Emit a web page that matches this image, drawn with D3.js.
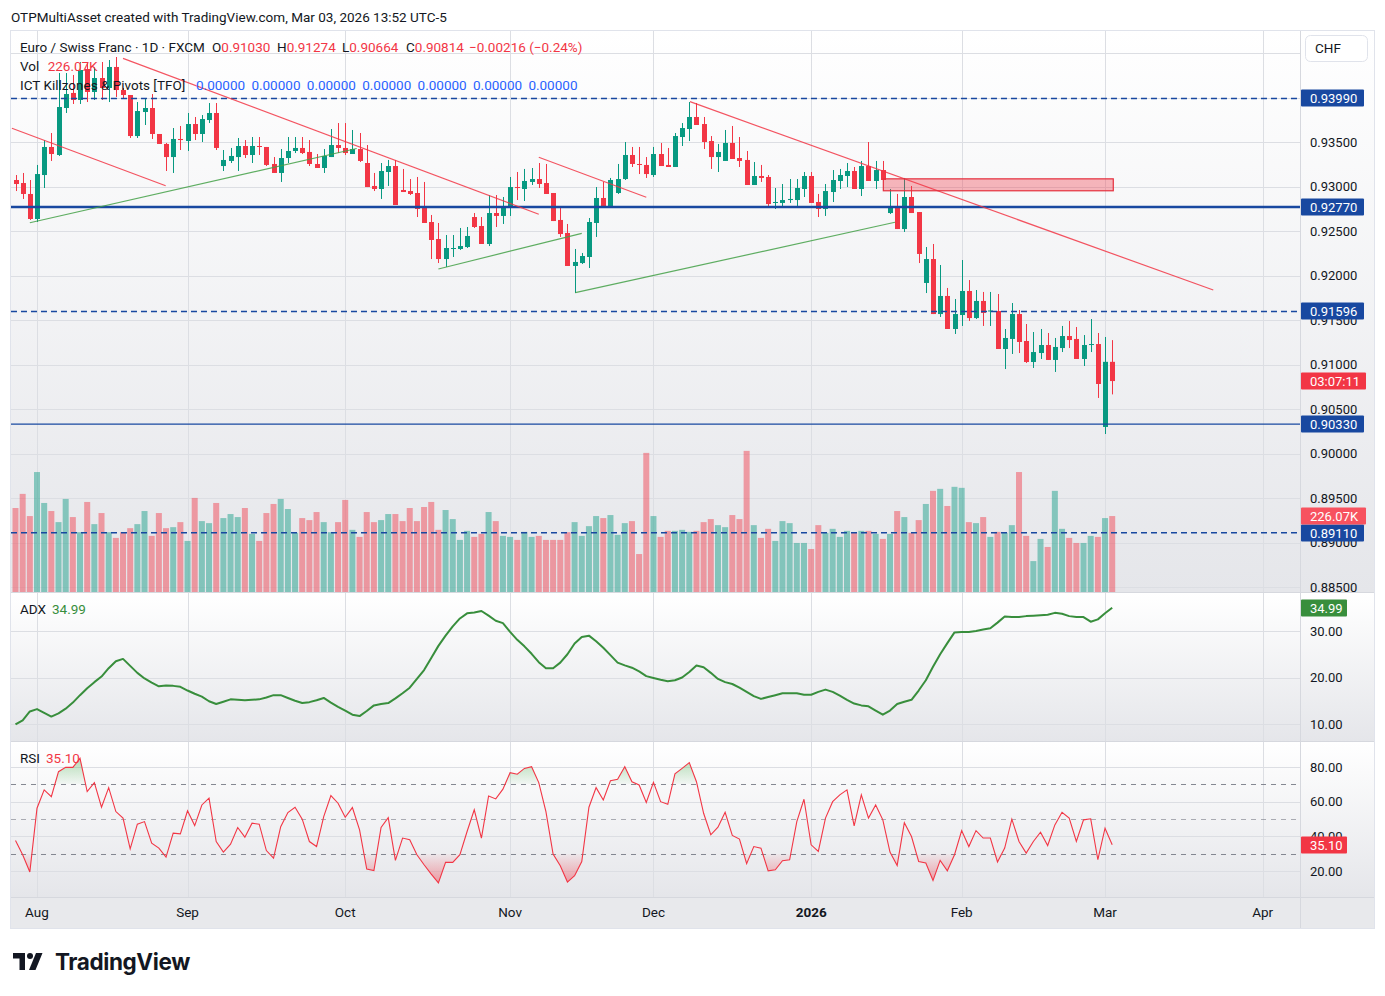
<!DOCTYPE html>
<html>
<head>
<meta charset="utf-8">
<script src="https://cdn.jsdelivr.net/npm/d3@7"></script>
<style>
  body { margin: 0; background: #fff; }
  svg { display: block; font-family: Roboto, "Noto Sans", sans-serif; }
</style>
</head>
<body>
<svg id="chart" width="1385" height="996"></svg>
<script>
// ---- data (EUR/CHF daily, FXCM) ----
var symbolTitle = "Euro / Swiss Franc \u00b7 1D \u00b7 FXCM";
var creditLine = "OTPMultiAsset created with TradingView.com, Mar 03, 2026 13:52 UTC-5";
var holidays = ["2025-12-25", "2026-01-01"];

var opens = [.93073,.93039,.92916,.92635,.93129,.93444,.93354,.93882,.94051,.93972,
  .94320,.94062,.94219,.94107,.94343,.94084,.94028,.93567,.93837,.93882,
  .93590,.93478,.93331,.93534,.93511,.93702,.93590,.93747,.93826,.93230,
  .93287,.93331,.93455,.93354,.93455,.93444,.93253,.93152,.93320,.93399,
  .93433,.93388,.93253,.93208,.93331,.93466,.93433,.93365,.93421,.93264,
  .93006,.92972,.93163,.93230,.92961,.92949,.92927,.92758,.92601,.92410,
  .92185,.92298,.92298,.92320,.92657,.92556,.92354,.92702,.92669,.92770,
  .92994,.92972,.93051,.93084,.93039,.92927,.92624,.92478,.92107,.92140,
  .92208,.92590,.92871,.92770,.92927,.93084,.93354,.93253,.93242,.93129,
  .93365,.93242,.93219,.93556,.93646,.93781,.93702,.93511,.93331,.93287,
  .93489,.93320,.93298,.93017,.93118,.93107,.92815,.92815,.92848,.92848,
  .92972,.93118,.92826,.92747,.92938,.93062,.93118,.93174,.92972,.93230,
  .93062,.93185,.92702,.92781,.92522,.92882,.92713,.91916,.92185,.91567,
  .91770,.91399,.91556,.91826,.91522,.91714,.91596,.91601,.91174,.91287,
  .91567,.91264,.91028,.91129,.91219,.91051,.91185,.91320,.91287,.91062,
  .91219,.91230,.90298,.91030];
var highs = [.93129,.93152,.93073,.93242,.93522,.93601,.94275,.94275,.94253,.94399,
  .94388,.94343,.94399,.94421,.94455,.94107,.94028,.93949,.93994,.94039,
  .93590,.93489,.93657,.93680,.93826,.93781,.93803,.93938,.93938,.93410,
  .93433,.93545,.93522,.93556,.93556,.93444,.93331,.93421,.93556,.93556,
  .93556,.93522,.93365,.93421,.93646,.93713,.93713,.93635,.93601,.93466,
  .93152,.93264,.93298,.93298,.93197,.93084,.93107,.93051,.92680,.92590,
  .92455,.92455,.92534,.92545,.92702,.92657,.92904,.92904,.92882,.93107,
  .93163,.93197,.93208,.93264,.93253,.92927,.92758,.92579,.92298,.92253,
  .92646,.92994,.93051,.93096,.93253,.93500,.93444,.93444,.93331,.93444,
  .93489,.93433,.93601,.93713,.93949,.93938,.93781,.93567,.93478,.93635,
  .93680,.93556,.93399,.93275,.93242,.93129,.92983,.93028,.93084,.93084,
  .93163,.93163,.92916,.93028,.93185,.93197,.93264,.93219,.93287,.93500,
  .93287,.93287,.92972,.92916,.93096,.93006,.92713,.92320,.92354,.92118,
  .91860,.91736,.92174,.91949,.91837,.91815,.91815,.91792,.91399,.91691,
  .91612,.91455,.91365,.91399,.91354,.91298,.91433,.91489,.91421,.91331,
  .91511,.91354,.91309,.91274];
var lows = [.92949,.92860,.92624,.92601,.92983,.93287,.93343,.93826,.93927,.93927,
  .93949,.93972,.93972,.93949,.94006,.93994,.93545,.93545,.93691,.93534,
  .93478,.93174,.93152,.93410,.93399,.93522,.93500,.93713,.93410,.93174,
  .93264,.93174,.93320,.93264,.93354,.93230,.93152,.93051,.93264,.93376,
  .93365,.93230,.93208,.93152,.93331,.93376,.93354,.93365,.93275,.92994,
  .92949,.92860,.93006,.92792,.92938,.92904,.92657,.92590,.92185,.92140,
  .92096,.92208,.92287,.92309,.92534,.92354,.92331,.92545,.92579,.92669,
  .92848,.92837,.93017,.92983,.92916,.92612,.92433,.92107,.91803,.92129,
  .92084,.92433,.92770,.92770,.92916,.93073,.93219,.93140,.93096,.93107,
  .93230,.93219,.93219,.93455,.93511,.93691,.93421,.93197,.93163,.93287,
  .93309,.93219,.93017,.93017,.93051,.92781,.92747,.92770,.92815,.92770,
  .92882,.92815,.92657,.92669,.92826,.92972,.92994,.92972,.92893,.93062,
  .92972,.93073,.92691,.92522,.92489,.92702,.92140,.91803,.91567,.91534,
  .91399,.91343,.91433,.91489,.91511,.91433,.91433,.91174,.90949,.91118,
  .91129,.91017,.90961,.91062,.91051,.90916,.91140,.91185,.91062,.90983,
  .91140,.90624,.90219,.90664];
var closes = [.93028,.92916,.92635,.93140,.93444,.93365,.93893,.94039,.93972,.94309,
  .94062,.94219,.94107,.94343,.94084,.94028,.93567,.93848,.93882,.93590,
  .93478,.93331,.93534,.93522,.93702,.93590,.93758,.93826,.93433,.93298,
  .93343,.93455,.93354,.93455,.93444,.93242,.93152,.93320,.93399,.93433,
  .93376,.93253,.93208,.93343,.93466,.93433,.93376,.93421,.93287,.92994,
  .92972,.93174,.93230,.92792,.92938,.92916,.92747,.92590,.92399,.92185,
  .92309,.92309,.92331,.92444,.92545,.92354,.92702,.92669,.92781,.92994,
  .92983,.93062,.93084,.93028,.92916,.92612,.92466,.92107,.92152,.92219,
  .92601,.92871,.92770,.93073,.93084,.93354,.93253,.93242,.93140,.93365,
  .93230,.93219,.93567,.93657,.93781,.93691,.93500,.93331,.93388,.93489,
  .93309,.93287,.93017,.93118,.93096,.92803,.92826,.92848,.92860,.92983,
  .93118,.92815,.92747,.92949,.93073,.93129,.93174,.92972,.93230,.93062,
  .93185,.93073,.92781,.92522,.92882,.92702,.92242,.92185,.91567,.91770,
  .91399,.91567,.91826,.91522,.91714,.91579,.91607,.91174,.91298,.91567,
  .91253,.91028,.91140,.91219,.91051,.91197,.91320,.91275,.91062,.91219,
  .91230,.90781,.91030,.90814];
// volume, thousands
var volumes = [250,292,226,357,265,241,208,277,223,178,268,202,235,178,161,178,190,202,241,167,
  235,190,193,208,152,280,211,205,265,220,232,223,250,173,152,235,262,277,247,176,
  220,214,238,208,178,208,274,185,164,238,208,214,232,232,211,250,211,253,268,185,
  244,217,155,182,164,173,238,211,167,164,155,179,164,167,155,155,155,178,208,167,
  196,226,220,229,170,205,211,113,414,226,164,182,182,185,179,182,208,217,199,193,
  229,217,420,199,161,188,152,211,205,146,146,128,199,176,188,164,182,176,182,182,
  173,158,173,241,223,176,214,262,301,307,256,313,310,208,205,223,164,179,176,199,
  357,167,92,158,134,301,188,161,146,146,167,164,220,226.07];
var adxValues = [9.9,10.8,12.7,13.2,12.4,11.6,12.3,13.3,14.6,16.2,
  17.7,19.0,20.2,22.0,23.5,24.0,22.5,21.0,19.8,18.9,
  18.1,18.3,18.2,18.0,17.2,16.5,15.9,14.9,14.3,14.8,
  15.3,15.2,15.1,15.2,15.3,15.7,16.2,16.2,15.6,15.0,
  14.5,14.7,15.1,15.6,14.6,13.7,12.9,12.0,11.7,12.8,
  14.0,14.3,14.5,15.5,16.6,17.8,19.7,21.6,24.2,26.8,
  29.0,31.0,32.7,33.8,34.0,34.3,33.3,32.2,31.7,29.8,
  28.1,26.7,25.1,23.3,22.0,22.0,23.2,25.0,27.3,28.7,
  29.0,27.8,26.4,24.8,23.2,22.6,22.1,21.3,20.3,19.9,
  19.5,19.2,19.4,20.0,21.2,22.6,22.2,21.0,19.7,19.0,
  18.6,17.8,16.9,16.0,15.4,15.8,16.2,16.6,16.6,16.6,
  16.3,16.3,16.9,17.4,16.9,16.1,15.2,14.4,14.0,13.8,
  12.9,12.0,12.9,14.3,14.8,15.2,17.2,19.4,22.3,25.0,
  27.4,29.7,29.8,29.8,30.0,30.3,30.6,31.8,33.1,33.0,
  33.0,33.2,33.3,33.4,33.5,33.9,33.7,33.2,33.0,33.0,
  32.0,32.5,33.8,34.99];
var rsiValues = [37.6,29.4,19.4,56.2,66.8,62.9,77.3,79.8,79.8,85.0,
  65.8,71.0,56.8,68.1,54.3,50.5,32.8,47.0,48.5,36.1,
  33.2,28.0,41.8,41.4,54.7,46.2,58.1,62.0,37.0,30.9,
  35.5,45.1,39.5,47.6,47.0,31.8,27.4,45.6,53.7,56.8,
  49.9,37.0,34.1,51.4,63.5,59.1,51.0,56.6,43.7,21.1,
  20.3,45.1,50.8,26.1,39.0,38.0,29.4,23.6,18.2,13.1,
  25.0,25.0,29.4,42.8,55.3,39.0,63.3,61.6,67.2,76.7,
  75.8,79.2,80.2,71.0,54.3,29.8,23.0,13.6,17.3,25.5,
  56.8,68.1,61.0,72.1,72.9,80.2,71.5,69.6,59.5,71.2,
  60.0,58.5,76.0,79.2,82.5,71.5,53.3,40.9,45.3,53.9,
  40.5,38.4,24.2,34.1,33.2,20.1,20.7,25.9,26.5,48.5,
  61.4,35.1,31.3,50.5,60.0,63.9,66.8,46.0,63.9,50.5,
  58.1,49.5,30.9,23.2,47.9,39.9,25.5,24.6,14.6,26.1,
  20.1,29.4,43.3,34.1,43.3,39.0,39.0,25.2,33.2,49.9,
  37.0,30.3,37.0,42.4,34.7,46.6,53.9,50.5,37.0,49.5,
  50.1,26.5,44.7,35.10];
var pivotValues = [0, 0, 0, 0, 0, 0, 0];

var priceTicks = [0.885,0.890,0.895,0.900,0.905,0.910,0.915,0.920,0.925,0.930,0.935,0.940,0.945];
var adxTicks = [10, 20, 30];
var rsiTicks = [20, 40, 60, 80];
var rsiBands = [70, 50, 30];

var dashedLevels = [0.93990, 0.91596, 0.89110];
var solidLevels = [0.92770, 0.90330];
// drawings: [bar index, price]
var redTrendLines = [
  [[-0.5, 0.93654], [20.95, 0.93009]],
  [[15.0, 0.94440], [73.0, 0.92688]],
  [[73.0, 0.93328], [88.0, 0.92879]],
  [[94.1, 0.93953], [167.1, 0.91837]]
];
var greenTrendLines = [
  [[2.0, 0.92593], [47.6, 0.93427]],
  [[59.0, 0.92073], [79.0, 0.92474]],
  [[78.1, 0.91807], [122.7, 0.92598]]
];
var zoneBars = [121.07, 153.15];
var zonePrices = [0.93086, 0.92952];
var countdown = "03:07:11";

// ---- layout ----
var plotLeft = 11, plotRight = 1300, axisRight = 1374;
var mainTop = 31, mainBottom = 592, adxTop = 593, adxBottom = 741,
    rsiTop = 742, rsiBottom = 897, timeBottom = 928;
var upColor = "#089981", downColor = "#f23645", levelColor = "#1848a0", textColor = "#131722";
var legendSize = 13.5;

var n = closes.length;
var x = d3.scaleLinear().domain([0, n - 1]).range([15.5, 1112.2]);
var yPrice = d3.scaleLinear().domain([0.885, 0.935]).range([587, 142]);
var yVol = d3.scaleLinear().domain([0, 450]).range([mainBottom, 440.8]);
var yAdx = d3.scaleLinear().domain([10, 30]).range([724, 631]);
var yRsi = d3.scaleLinear().domain([20, 80]).range([871, 767]);

var fmt5 = d3.format(".5f"), fmt2 = d3.format(".2f");

var buildCalendar = function() {
  var days = [], d = new Date(Date.UTC(2025, 6, 29)), end = new Date(Date.UTC(2026, 4, 1));
  while (d < end) {
    var wd = d.getUTCDay(), iso = d.toISOString().slice(0, 10);
    if (wd !== 0 && wd !== 6 && holidays.indexOf(iso) < 0) days.push(new Date(d));
    d.setUTCDate(d.getUTCDate() + 1);
  }
  return days;
};
var dates = buildCalendar();
var monthTicks = [];
for (var i = 1; i < dates.length; i++) {
  if (dates[i].getUTCMonth() !== dates[i - 1].getUTCMonth() && x(i) < plotRight) {
    monthTicks.push({ i: i, date: dates[i], year: dates[i].getUTCMonth() === 0 });
  }
}

var isUp = function(i) { return closes[i] >= opens[i]; };
var crisp = function(v) { return Math.round(v) + 0.5; };

var svg = d3.select("#chart");
var defs = svg.append("defs");

var grad = defs.append("linearGradient").attr("id", "paneBg")
  .attr("x1", 0).attr("y1", 0).attr("x2", 0).attr("y2", 1);
grad.append("stop").attr("offset", "0%").attr("stop-color", "#ffffff");
grad.append("stop").attr("offset", "100%").attr("stop-color", "#e5e6ea");

var addClip = function(id, y0, y1) {
  defs.append("clipPath").attr("id", id).append("rect")
    .attr("x", plotLeft).attr("y", y0).attr("width", plotRight - plotLeft).attr("height", y1 - y0);
};
addClip("clipMain", mainTop, mainBottom);
addClip("clipAdx", adxTop, adxBottom);
addClip("clipRsi", rsiTop, rsiBottom);
addClip("clipOb", rsiTop, yRsi(70));
addClip("clipOs", yRsi(30), rsiBottom);

var ob = defs.append("linearGradient").attr("id", "obGrad").attr("gradientUnits", "userSpaceOnUse")
  .attr("x1", 0).attr("x2", 0).attr("y1", yRsi(86)).attr("y2", yRsi(70));
ob.append("stop").attr("offset", "0%").attr("stop-color", "#4caf50").attr("stop-opacity", 0.45);
ob.append("stop").attr("offset", "100%").attr("stop-color", "#4caf50").attr("stop-opacity", 0.03);
var os = defs.append("linearGradient").attr("id", "osGrad").attr("gradientUnits", "userSpaceOnUse")
  .attr("x1", 0).attr("x2", 0).attr("y1", yRsi(30)).attr("y2", yRsi(13));
os.append("stop").attr("offset", "0%").attr("stop-color", "#f23645").attr("stop-opacity", 0.03);
os.append("stop").attr("offset", "100%").attr("stop-color", "#f23645").attr("stop-opacity", 0.45);

// backgrounds
svg.append("rect").attr("width", 1385).attr("height", 996).attr("fill", "#fff");
[[mainTop, mainBottom], [adxTop, adxBottom], [rsiTop, rsiBottom]].forEach(function(p) {
  svg.append("rect").attr("x", plotLeft).attr("y", p[0]).attr("width", axisRight - plotLeft)
    .attr("height", p[1] - p[0]).attr("fill", "url(#paneBg)");
});
svg.append("rect").attr("x", plotLeft).attr("y", rsiBottom).attr("width", axisRight - plotLeft)
  .attr("height", timeBottom - rsiBottom).attr("fill", "#e8e9ec");

var text = function(g, xp, yp, str, color, size, weight) {
  return g.append("text").attr("x", xp).attr("y", yp).attr("fill", color || textColor)
    .attr("font-size", size || 13).attr("font-weight", weight || 400).text(str);
};

// ---- grid ----
var grid = svg.append("g").attr("stroke", "#dcdee3").attr("stroke-width", 1);
monthTicks.forEach(function(t) {
  grid.append("line").attr("x1", crisp(x(t.i))).attr("x2", crisp(x(t.i)))
    .attr("y1", mainTop).attr("y2", rsiBottom);
});
priceTicks.forEach(function(p) {
  if (yPrice(p) > mainTop) grid.append("line").attr("x1", plotLeft).attr("x2", plotRight)
    .attr("y1", crisp(yPrice(p))).attr("y2", crisp(yPrice(p)));
});
adxTicks.forEach(function(v) {
  grid.append("line").attr("x1", plotLeft).attr("x2", plotRight)
    .attr("y1", crisp(yAdx(v))).attr("y2", crisp(yAdx(v)));
});
rsiTicks.forEach(function(v) {
  grid.append("line").attr("x1", plotLeft).attr("x2", plotRight)
    .attr("y1", crisp(yRsi(v))).attr("y2", crisp(yRsi(v)));
});

// ---- main pane ----
var main = svg.append("g").attr("clip-path", "url(#clipMain)");

main.append("g").selectAll("rect").data(volumes).enter().append("rect")
  .attr("x", function(d, i) { return x(i) - 3; })
  .attr("width", 6)
  .attr("y", function(d) { return yVol(d); })
  .attr("height", function(d) { return yVol(0) - yVol(d); })
  .attr("fill", function(d, i) { return isUp(i) ? upColor : downColor; })
  .attr("fill-opacity", 0.45);

var candles = main.append("g").selectAll("g").data(closes).enter().append("g");
candles.append("line")
  .attr("x1", function(d, i) { return crisp(x(i)); })
  .attr("x2", function(d, i) { return crisp(x(i)); })
  .attr("y1", function(d, i) { return yPrice(highs[i]); })
  .attr("y2", function(d, i) { return yPrice(lows[i]); })
  .attr("stroke", function(d, i) { return isUp(i) ? upColor : downColor; });
candles.append("rect")
  .attr("x", function(d, i) { return Math.round(x(i)) - 2; })
  .attr("width", 5)
  .attr("y", function(d, i) { return yPrice(Math.max(opens[i], closes[i])); })
  .attr("height", function(d, i) { return Math.max(1, Math.abs(yPrice(opens[i]) - yPrice(closes[i]))); })
  .attr("fill", function(d, i) { return isUp(i) ? upColor : downColor; });

dashedLevels.forEach(function(p) {
  main.append("line").attr("x1", plotLeft).attr("x2", plotRight)
    .attr("y1", yPrice(p)).attr("y2", yPrice(p))
    .attr("stroke", levelColor).attr("stroke-width", 1.5).attr("stroke-dasharray", "6,4");
});
solidLevels.forEach(function(p, k) {
  main.append("line").attr("x1", plotLeft).attr("x2", plotRight)
    .attr("y1", yPrice(p)).attr("y2", yPrice(p))
    .attr("stroke", levelColor).attr("stroke-width", k === 0 ? 2.5 : 1.2);
});

var segLine = function(seg, color) {
  main.append("line")
    .attr("x1", x(seg[0][0])).attr("y1", yPrice(seg[0][1]))
    .attr("x2", x(seg[1][0])).attr("y2", yPrice(seg[1][1]))
    .attr("stroke", color).attr("stroke-width", 1.2).attr("stroke-opacity", 0.85);
};
redTrendLines.forEach(function(s) { segLine(s, "#f23645"); });
greenTrendLines.forEach(function(s) { segLine(s, "#43a047"); });

main.append("rect")
  .attr("x", x(zoneBars[0])).attr("width", x(zoneBars[1]) - x(zoneBars[0]))
  .attr("y", yPrice(zonePrices[0])).attr("height", yPrice(zonePrices[1]) - yPrice(zonePrices[0]))
  .attr("fill", "#f23645").attr("fill-opacity", 0.35)
  .attr("stroke", "#e5303e").attr("stroke-width", 1.2);

// legend
var legend = svg.append("g");
var last = n - 1;
var chg = closes[last] - closes[last - 1];
text(legend, 20, 52, symbolTitle, textColor, legendSize);
[["O", opens[last], 212], ["H", highs[last], 277], ["L", lows[last], 342], ["C", closes[last], 406]]
  .forEach(function(o) {
    var t = text(legend, o[2], 52, o[0], textColor, legendSize);
    t.append("tspan").attr("fill", downColor).text(fmt5(o[1]));
  });
text(legend, 469, 52, fmt5(chg) + " (" + d3.format(".2%")(chg / closes[last - 1]) + ")", downColor, legendSize);
var volText = text(legend, 20, 71, "Vol ", textColor, legendSize);
volText.append("tspan").attr("dx", 5).attr("fill", downColor).text(fmt2(volumes[last]) + "K");
text(legend, 20, 90, "ICT Killzones & Pivots [TFO]", textColor, legendSize);
pivotValues.forEach(function(v, k) {
  text(legend, 196 + k * 55.4, 90, fmt5(v), "#2962ff", legendSize);
});

// ---- ADX pane ----
var adxG = svg.append("g").attr("clip-path", "url(#clipAdx)");
adxG.append("path").datum(adxValues)
  .attr("d", d3.line().x(function(d, i) { return x(i); }).y(function(d) { return yAdx(d); }))
  .attr("fill", "none").attr("stroke", "#388e3c").attr("stroke-width", 2)
  .attr("stroke-linejoin", "round");
var adxLeg = text(svg, 20, 614, "ADX", textColor, legendSize);
adxLeg.append("tspan").attr("dx", 6).attr("fill", "#388e3c").text(fmt2(adxValues[last]));

// ---- RSI pane ----
var rsiG = svg.append("g").attr("clip-path", "url(#clipRsi)");
rsiBands.forEach(function(v) {
  rsiG.append("line").attr("x1", plotLeft).attr("x2", plotRight)
    .attr("y1", crisp(yRsi(v))).attr("y2", crisp(yRsi(v)))
    .attr("stroke", "#787b86").attr("stroke-dasharray", "5,5").attr("stroke-opacity", v === 50 ? 0.6 : 0.9);
});
rsiG.append("path").datum(rsiValues).attr("clip-path", "url(#clipOb)")
  .attr("d", d3.area().x(function(d, i) { return x(i); }).y0(yRsi(70)).y1(function(d) { return yRsi(d); }))
  .attr("fill", "url(#obGrad)");
rsiG.append("path").datum(rsiValues).attr("clip-path", "url(#clipOs)")
  .attr("d", d3.area().x(function(d, i) { return x(i); }).y0(yRsi(30)).y1(function(d) { return yRsi(d); }))
  .attr("fill", "url(#osGrad)");
rsiG.append("path").datum(rsiValues)
  .attr("d", d3.line().x(function(d, i) { return x(i); }).y(function(d) { return yRsi(d); }))
  .attr("fill", "none").attr("stroke", "#f23645").attr("stroke-width", 1.1);
var rsiLeg = text(svg, 20, 763, "RSI", textColor, legendSize);
rsiLeg.append("tspan").attr("dx", 6).attr("fill", downColor).text(fmt2(rsiValues[last]));

// ---- separators ----
var sep = svg.append("g").attr("stroke", "#d6d8de").attr("stroke-width", 1);
[mainBottom, adxBottom, rsiBottom].forEach(function(yv) {
  sep.append("line").attr("x1", plotLeft).attr("x2", axisRight).attr("y1", yv + 0.5).attr("y2", yv + 0.5);
});
sep.append("line").attr("x1", plotRight + 0.5).attr("x2", plotRight + 0.5).attr("y1", mainTop).attr("y2", timeBottom);
svg.append("rect").attr("x", 10.5).attr("y", 30.5).attr("width", axisRight - 10).attr("height", timeBottom - 30)
  .attr("fill", "none").attr("stroke", "#e0e3eb");

// ---- price axis ----
var axisG = svg.append("g");
priceTicks.forEach(function(p) {
  // the two top ticks sit under the CHF badge and the 0.93990 tag
  if (p < 0.9375) text(axisG, 1310, yPrice(p) + 4.5, fmt5(p));
});
adxTicks.forEach(function(v) { text(axisG, 1310, yAdx(v) + 4.5, fmt2(v)); });
rsiTicks.forEach(function(v) { text(axisG, 1310, yRsi(v) + 4.5, fmt2(v)); });

var tag = function(yc, label, fill, w) {
  axisG.append("rect").attr("x", plotRight + 1).attr("y", Math.round(yc) - 8.5).attr("width", w || 63)
    .attr("height", 17).attr("fill", fill).attr("rx", 1);
  text(axisG, 1310, Math.round(yc) + 4.5, label, "#fff");
};
dashedLevels.concat(solidLevels).forEach(function(p) { tag(yPrice(p), fmt5(p), levelColor); });
tag(yPrice(closes[last]), countdown, "#f23645", 65);
tag(yVol(volumes[last]), fmt2(volumes[last]) + "K", "#f7525f", 65);
tag(yAdx(adxValues[last]), fmt2(adxValues[last]), "#388e3c", 46);
tag(yRsi(rsiValues[last]), fmt2(rsiValues[last]), "#f23645", 46);

axisG.append("rect").attr("x", 1305.5).attr("y", 35.5).attr("width", 62).attr("height", 26).attr("rx", 5)
  .attr("fill", "#fff").attr("stroke", "#e0e3eb");
text(axisG, 1315, 53, "CHF", textColor, legendSize);

// ---- time axis ----
var fmtMonth = d3.utcFormat("%b"), fmtYear = d3.utcFormat("%Y");
monthTicks.forEach(function(t) {
  text(svg, x(t.i), 917, t.year ? fmtYear(t.date) : fmtMonth(t.date), textColor, legendSize, t.year ? 700 : 400)
    .attr("text-anchor", "middle");
});

// ---- header & footer ----
text(svg, 11, 22, creditLine, textColor, legendSize);
var logo = svg.append("g").attr("fill", textColor);
logo.append("path").attr("d", "M13,953 L25,953 L25,970 L19.5,970 L19.5,958.5 L13,958.5 Z");
logo.append("circle").attr("cx", 30).attr("cy", 956).attr("r", 3);
logo.append("path").attr("d", "M36,953 L42.5,953 L35.5,970 L29,970 Z");
text(svg, 55, 970, "TradingView", textColor, 22.5, 700).attr("font-family", "Inter, Roboto, sans-serif")
  .attr("letter-spacing", "-0.4");
</script>
</body>
</html>
